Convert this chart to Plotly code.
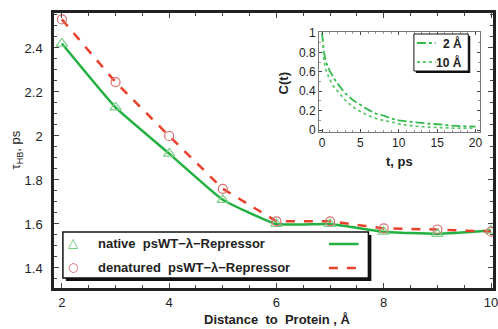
import plotly.graph_objects as go

# Main chart data
distance = [2, 3, 4, 5, 6, 7, 8, 9, 10]
native = [2.42, 2.13, 1.92, 1.71, 1.60, 1.60, 1.565, 1.555, 1.57]
denatured = [2.53, 2.245, 2.00, 1.76, 1.612, 1.612, 1.58, 1.575, 1.565]
x_ticks = [2, 4, 6, 8, 10]
y_ticks = [1.4, 1.6, 1.8, 2.0, 2.2, 2.4]
y_tick_text = ["1.4", "1.6", "1.8", "2", "2.2", "2.4"]

# Inset data C(t)
t_vals = [0, 0.25, 0.5, 1, 1.5, 2, 3, 4, 5, 6, 7, 8, 9, 10, 11, 12, 13, 14, 15, 16, 17, 18, 19, 20]
c_2A = [1.0, 0.80, 0.70, 0.61, 0.54, 0.48, 0.38, 0.31, 0.26, 0.21, 0.17, 0.15, 0.12, 0.10, 0.09, 0.08, 0.07, 0.065, 0.06, 0.05, 0.045, 0.04, 0.035, 0.035]
c_10A = [1.0, 0.72, 0.62, 0.52, 0.45, 0.40, 0.31, 0.24, 0.19, 0.15, 0.12, 0.10, 0.08, 0.065, 0.05, 0.04, 0.035, 0.03, 0.025, 0.025, 0.02, 0.02, 0.02, 0.02]
inset_x_ticks = [0, 5, 10, 15, 20]
inset_y_ticks = [0, 0.2, 0.4, 0.6, 0.8, 1]

GREEN = "#22b040"
RED = "#e8402a"
FONT = "Liberation Sans"

fig = go.Figure()
fig.add_trace(go.Scatter(x=distance, y=native, mode="lines", line=dict(color=GREEN, width=2.5, shape="spline", smoothing=0.4), showlegend=False))
fig.add_trace(go.Scatter(x=distance, y=denatured, mode="lines", line=dict(color=RED, width=2.5, dash="dash"), showlegend=False))
fig.add_trace(go.Scatter(x=distance, y=native, mode="markers", marker=dict(symbol="triangle-up-open", size=10, color="#7fd08a", line=dict(width=1.2)), showlegend=False))
fig.add_trace(go.Scatter(x=distance, y=denatured, mode="markers", marker=dict(symbol="circle-open", size=9, color="#d87070", line=dict(width=1.2)), showlegend=False))

fig.add_trace(go.Scatter(x=t_vals, y=c_2A, xaxis="x2", yaxis="y2", mode="lines", line=dict(color="#30b848", width=1.8, dash="dashdot"), showlegend=False))
fig.add_trace(go.Scatter(x=t_vals, y=c_10A, xaxis="x2", yaxis="y2", mode="lines", line=dict(color="#60c870", width=1.8, dash="dot"), showlegend=False))

L, R, T, B = 54, 0, 13, 41
W, H = 498, 329
pw, ph = W - L - R, H - T - B

def px(xp):
    return (xp - L) / pw

def py(yp):
    return (H - B - yp) / ph

fig.update_layout(
    width=W, height=H, margin=dict(l=L, r=R, t=T, b=B),
    paper_bgcolor="white", plot_bgcolor="white",
    font=dict(family=FONT),
    xaxis=dict(range=[1.853, 10.037], tickvals=x_ticks, ticktext=["2", "4", "6", "8", "10"], ticks="inside", ticklen=5, tickwidth=1,
               showline=True, linecolor="#222", linewidth=2.5, mirror="ticks", showgrid=False, zeroline=False,
               tickfont=dict(family=FONT, size=13, color="#222"), ticklabelstandoff=1, ticklabeloverflow="allow",
               minor=dict(dtick=0.5, ticks="inside", ticklen=3, tickcolor="#444")),
    yaxis=dict(range=[1.309, 2.559], tickvals=y_ticks, ticktext=y_tick_text, ticks="inside", ticklen=5,
               showline=True, linecolor="#222", linewidth=2.5, mirror="ticks", showgrid=False, zeroline=False,
               tickfont=dict(family=FONT, size=13, color="#222"), ticklabelstandoff=6,
               minor=dict(dtick=0.05, ticks="inside", ticklen=3, tickcolor="#444")),
    xaxis2=dict(domain=[px(322), px(485)], anchor="y2", range=[-0.4, 20.6], tickvals=inset_x_ticks,
                ticks="inside", ticklen=3, showline=True, linecolor="#777", linewidth=1, mirror="ticks",
                showgrid=False, zeroline=False, tickfont=dict(family=FONT, size=12, color="#222"),
                minor=dict(dtick=1, ticks="inside", ticklen=2, tickcolor="#999")),
    yaxis2=dict(domain=[py(132), py(32)], anchor="x2", range=[-0.02, 1.01], tickvals=inset_y_ticks,
                ticktext=["0", "0.2", "0.4", "0.6", "0.8", "1"],
                ticks="inside", ticklen=3, showline=True, linecolor="#777", linewidth=1, mirror="ticks",
                showgrid=False, zeroline=False, tickfont=dict(family=FONT, size=12, color="#222"),
                minor=dict(dtick=0.1, ticks="inside", ticklen=2, tickcolor="#999")),
)

shapes = []
annotations = []

# Axis titles
annotations.append(dict(text="<b>Distance  to  Protein , Å</b>", x=px(280), y=py(329), xref="paper", yref="paper",
                        showarrow=False, font=dict(family=FONT, size=13, color="#222"), xanchor="center", yanchor="bottom"))
annotations.append(dict(text="τ<sub>HB</sub>, ps", x=px(16), y=py(150), xref="paper", yref="paper", textangle=-90,
                        showarrow=False, font=dict(family=FONT, size=13, color="#222"), xanchor="center", yanchor="middle"))
annotations.append(dict(text="<b>t, ps</b>", x=px(403), y=py(161), xref="paper", yref="paper",
                        showarrow=False, font=dict(family=FONT, size=13, color="#222"), xanchor="center", yanchor="middle"))
annotations.append(dict(text="<b>C(t)</b>", x=px(287), y=py(83), xref="paper", yref="paper", textangle=-90,
                        showarrow=False, font=dict(family=FONT, size=13, color="#222"), xanchor="center", yanchor="middle"))

# Main legend box with shadow
shapes.append(dict(type="rect", xref="paper", yref="paper", x0=px(66), x1=px(375), y0=py(281), y1=py(235),
                   fillcolor="#111", line=dict(width=0), layer="above"))
shapes.append(dict(type="rect", xref="paper", yref="paper", x0=px(63), x1=px(372), y0=py(278), y1=py(232),
                   fillcolor="white", line=dict(color="#111", width=1.5), layer="above"))
shapes.append(dict(type="line", xref="paper", yref="paper", x0=px(332), x1=px(362), y0=py(244), y1=py(244),
                   line=dict(color=GREEN, width=2.5), layer="above"))
shapes.append(dict(type="line", xref="paper", yref="paper", x0=px(332), x1=px(364), y0=py(268), y1=py(268),
                   line=dict(color=RED, width=2.5, dash="dash"), layer="above"))
annotations.append(dict(text="△", x=px(73), y=py(242), xref="paper", yref="paper", showarrow=False,
                        font=dict(family="DejaVu Sans", size=13, color="#5cc46c"), xanchor="center", yanchor="middle"))
annotations.append(dict(text="○", x=px(73), y=py(267), xref="paper", yref="paper", showarrow=False,
                        font=dict(family="DejaVu Sans", size=12, color="#d06060"), xanchor="center", yanchor="middle"))
annotations.append(dict(text="<b>native  psWT−λ−Repressor</b>", x=px(96), y=py(243), xref="paper", yref="paper", showarrow=False,
                        font=dict(family=FONT, size=13, color="#222"), xanchor="left", yanchor="middle"))
annotations.append(dict(text="<b>denatured  psWT−λ−Repressor</b>", x=px(96), y=py(267), xref="paper", yref="paper", showarrow=False,
                        font=dict(family=FONT, size=13, color="#222"), xanchor="left", yanchor="middle"))

# Inset legend box with shadow
shapes.append(dict(type="rect", xref="paper", yref="paper", x0=px(420), x1=px(475), y0=py(73), y1=py(36),
                   fillcolor="#111", line=dict(width=0), layer="above"))
shapes.append(dict(type="rect", xref="paper", yref="paper", x0=px(418), x1=px(473), y0=py(71), y1=py(34),
                   fillcolor="white", line=dict(color="#111", width=1), layer="above"))
shapes.append(dict(type="line", xref="paper", yref="paper", x0=px(421), x1=px(440), y0=py(43), y1=py(43),
                   line=dict(color="#30b848", width=1.8, dash="dashdot"), layer="above"))
shapes.append(dict(type="line", xref="paper", yref="paper", x0=px(421), x1=px(440), y0=py(62), y1=py(62),
                   line=dict(color="#60c870", width=1.8, dash="dot"), layer="above"))
annotations.append(dict(text="<b>2 Å</b>", x=px(469), y=py(43), xref="paper", yref="paper", showarrow=False,
                        font=dict(family=FONT, size=12, color="#222"), xanchor="right", yanchor="middle"))
annotations.append(dict(text="<b>10 Å</b>", x=px(469), y=py(62), xref="paper", yref="paper", showarrow=False,
                        font=dict(family=FONT, size=12, color="#222"), xanchor="right", yanchor="middle"))

fig.update_layout(shapes=shapes, annotations=annotations)
fig.update_xaxes(tickprefix="<b>", ticksuffix="</b>")
fig.update_yaxes(tickprefix="<b>", ticksuffix="</b>")

fig.write_html("out.html")
